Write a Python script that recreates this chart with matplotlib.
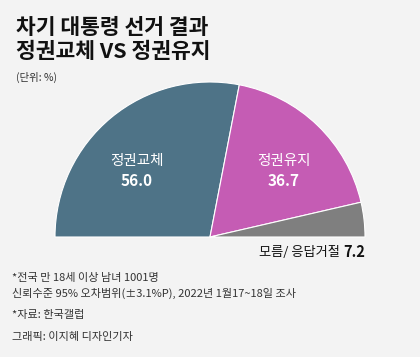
import matplotlib
matplotlib.use("Agg")
import matplotlib.pyplot as plt

plt.rcParams['font.family'] = ['Noto Sans CJK KR', 'DejaVu Sans']

categories = ['정권교체', '정권유지', '모름/ 응답거절']
values = [56.0, 36.7, 7.2]
colors = ['#4e7387', '#c55cb4', '#7f7f7f']
title_lines = ['차기 대통령 선거 결과', '정권교체 VS 정권유지']
unit = '(단위: %)'
notes = ['*전국 만 18세 이상 남녀 1001명',
         '신뢰수준 95% 오차범위(±3.1%P), 2022년 1월17~18일 조사',
         '*자료: 한국갤럽',
         '그래픽: 이지혜 디자인기자']

W, H = 420, 357
bg = '#f3f3f3'
fig = plt.figure(figsize=(W / 100, H / 100), dpi=100, facecolor=bg)
ax = fig.add_axes([0, 0, 1, 1])
ax.set_facecolor(bg)

cx, cy, r = 210, H - 237, 155
vals = values + [sum(values)]
wedges, _ = ax.pie(vals, colors=colors + ['none'], startangle=180,
                   counterclock=False, radius=r, center=(cx, cy), frame=True,
                   wedgeprops=dict(edgecolor='white', linewidth=0.8))
wedges[-1].set_visible(False)
ax.set_xlim(0, W)
ax.set_ylim(0, H)
ax.set_aspect('equal')
ax.axis('off')

def fy(py):
    return 1 - py / H

def fx(px):
    return px / W

# Title
fig.text(fx(16), fy(27), title_lines[0], fontsize=15.5, fontweight='heavy',
         color='#111111', va='center', ha='left')
fig.text(fx(16), fy(52), title_lines[1], fontsize=15.5, fontweight='heavy',
         color='#111111', va='center', ha='left')
fig.text(fx(16), fy(77), unit, fontsize=7.5, color='#333333', va='center', ha='left')

# Slice labels
fig.text(fx(137), fy(161), categories[0], fontsize=10.5, color='white', ha='center', va='center')
fig.text(fx(137), fy(181), f'{values[0]:.1f}', fontsize=11, fontweight='bold',
         color='white', ha='center', va='center')
fig.text(fx(284), fy(161), categories[1], fontsize=10.5, color='white', ha='center', va='center')
fig.text(fx(284), fy(181), f'{values[1]:.1f}', fontsize=11, fontweight='bold',
         color='white', ha='center', va='center')

t1 = fig.text(fx(365), fy(252), f'{values[2]:.1f}', fontsize=10.5, fontweight='bold',
              color='#111111', ha='right', va='center')
fig.canvas.draw()
bb = t1.get_window_extent()
fig.text(bb.x0 / W - 3 / W, fy(252), categories[2], fontsize=9.5, color='#111111',
         ha='right', va='center')

# Notes
ys = [278, 293, 315, 337]
for y, t in zip(ys, notes):
    fig.text(fx(12), fy(y), t, fontsize=8, color='#333333', ha='left', va='center')

fig.savefig('out.png', dpi=100, facecolor=bg)
